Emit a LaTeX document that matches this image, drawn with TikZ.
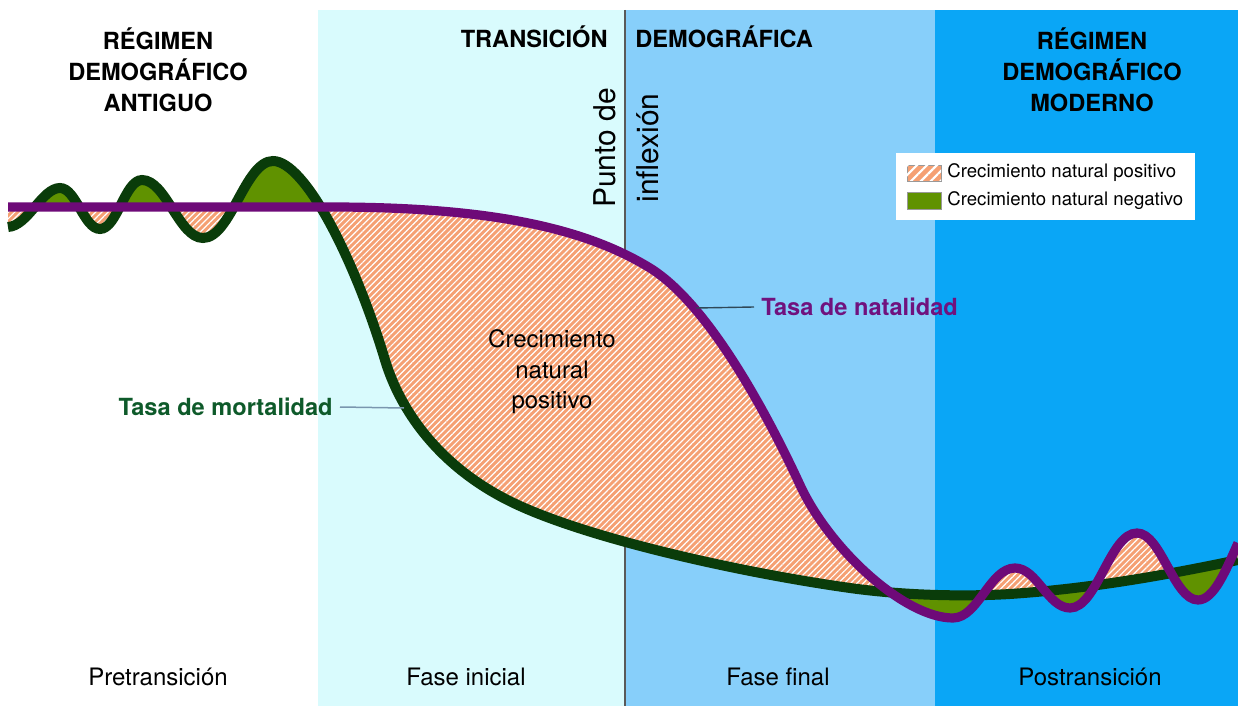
\documentclass[tikz,border=0pt]{standalone}
\usepackage{fontspec}
\setmainfont{TeX Gyre Heros}
\usetikzlibrary{patterns.meta}

\definecolor{cyanband}{RGB}{217,251,253}
\definecolor{lightband}{RGB}{135,207,250}
\definecolor{blueband}{RGB}{10,166,246}
\definecolor{natpurple}{RGB}{110,10,120}
\definecolor{mortgreen}{RGB}{10,60,10}
\definecolor{neggreen}{RGB}{96,146,0}
\definecolor{posorange}{RGB}{245,160,115}
\definecolor{mortlabel}{RGB}{14,90,42}
\definecolor{natlabel}{RGB}{112,18,126}

% the two rates, in pixel coordinates of the chart
\newcommand{\natcurve}{(8,207) -- (330,207)
  .. controls (480,207) and (580,225) .. (650,268)
  .. controls (710,305) and (770,420) .. (800,485)
  .. controls (830,550) and (905,618) .. (953,618)
  .. controls (978,618) and (990,568) .. (1015,568)
  .. controls (1037,568) and (1048,608) .. (1070,608)
  .. controls (1097,608) and (1110,533) .. (1137,533)
  .. controls (1161,533) and (1174,600) .. (1198,600)
  .. controls (1214,600) and (1226,570) .. (1238,543)}
\newcommand{\mortcurve}{(8,227)
  .. controls (28,226) and (42,188) .. (60,188)
  .. controls (76,188) and (84,229) .. (100,229)
  .. controls (117,229) and (125,180) .. (142,180)
  .. controls (166,180) and (179,238) .. (203,238)
  .. controls (231,238) and (245,161) .. (273,161)
  .. controls (305,161) and (355,260) .. (385,360)
  .. controls (400,410) and (440,470) .. (520,506)
  .. controls (600,542) and (750,574) .. (850,588)
  .. controls (900,595) and (960,597) .. (1010,594)
  .. controls (1100,588) and (1180,572) .. (1238,560)}

\begin{document}
\begin{tikzpicture}[x=0.5pt,y=-0.5pt,
  title/.style={font=\bfseries\fontsize{11.8}{15.5}\selectfont,align=center,inner sep=0},
  phase/.style={font=\fontsize{12}{14}\selectfont,inner sep=0},
  rate/.style={font=\bfseries\fontsize{11.8}{14}\selectfont,inner xsep=3.5pt,inner ysep=0},
  vlabel/.style={font=\fontsize{15}{17}\selectfont,rotate=90,inner sep=0},
  legtext/.style={font=\fontsize{9.3}{11}\selectfont,inner sep=0,anchor=west},
  hatch/.style={fill=posorange,postaction={pattern color=white,pattern={Lines[angle=45,distance=2.2pt,line width=.6pt]}}},
  leghatch/.style={fill=posorange,postaction={pattern color=white,pattern={Lines[angle=45,distance=3.5pt,line width=1.1pt]}}}]

\useasboundingbox (0,0) rectangle (1238,706);
\fill[white] (0,0) rectangle (1238,706);

% bands
\fill[cyanband] (318,10) rectangle (625,706);
\fill[lightband] (625,10) rectangle (935,706);
\fill[blueband] (935,10) rectangle (1238,706);
\draw[black!65,line width=.7pt] (625,10) -- (625,706);

% natural growth areas
\begin{scope}
  \clip \natcurve -- (1238,706) -- (8,706) -- cycle;
  \path[hatch] \mortcurve -- (1238,0) -- (8,0) -- cycle;
\end{scope}
\begin{scope}
  \clip \natcurve -- (1238,0) -- (8,0) -- cycle;
  \fill[neggreen] \mortcurve -- (1238,706) -- (8,706) -- cycle;
\end{scope}

% rates
\draw[mortgreen,line width=5pt] \mortcurve;
\draw[natpurple,line width=4.6pt] \natcurve;

\coordinate (mortpt) at (404,408);
\coordinate (natpt) at (696,308);

% titles
\node[title] (antiguo) at (158,70) {RÉGIMEN\\DEMOGRÁFICO\\ANTIGUO};
\node[title,anchor=base east] (transicion) at (608,48) {TRANSICIÓN};
\node[title,anchor=base west] (demografica) at (635,48) {DEMOGRÁFICA};
\node[title] (moderno) at (1092,70) {RÉGIMEN\\DEMOGRÁFICO\\MODERNO};

\node[vlabel,anchor=base] (punto) at (615,148) {Punto de};
\node[vlabel,anchor=base] (inflexion) at (658,148) {inflexión};

\node[phase,align=center,font=\fontsize{12}{15.25}\selectfont] (crec) at (552,372) {Crecimiento\\natural\\positivo};

% rate labels
\node[rate,text=mortlabel,anchor=east] (mortlab) at (340,407) {Tasa de mortalidad};
\node[rate,text=natlabel,anchor=west] (natlab) at (754,307) {Tasa de natalidad};
\draw[color={rgb,255:red,122;green,150;blue,174},line width=.75pt] (mortlab.east) -- (mortpt);
\draw[color={rgb,255:red,47;green,72;blue,88},line width=.7pt] (natlab.west) -- (natpt);

% phases
\node[phase,anchor=base] (pre) at (158,685) {Pretransición};
\node[phase,anchor=base] (inicial) at (466,685) {Fase inicial};
\node[phase,anchor=base] (final) at (778,685) {Fase final};
\node[phase,anchor=base] (post) at (1090,685) {Postransición};

% legend
\fill[white] (896,153) rectangle (1195,220);
\path[leghatch,draw=black!40,line width=.3pt] (907,165) rectangle (941,181);
\fill[neggreen,draw=black!40,line width=.3pt] (907,192) rectangle (941,209);
\node[legtext] (legpos) at (947,173) {Crecimiento natural positivo};
\node[legtext] (legneg) at (947,201) {Crecimiento natural negativo};

\end{tikzpicture}
\end{document}
